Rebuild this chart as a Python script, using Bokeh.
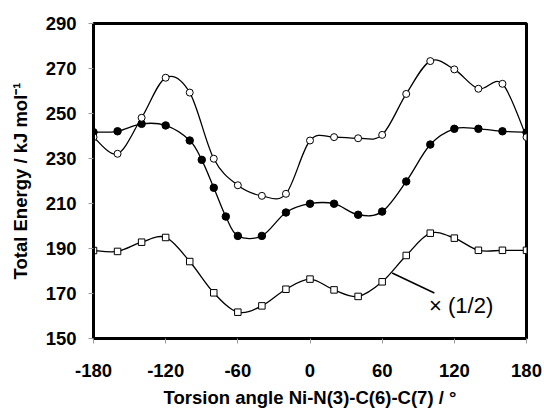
from bokeh.plotting import figure
from bokeh.models import FixedTicker, Range1d, Label
from bokeh.embed import file_html
from bokeh.resources import INLINE

# ---- data ----
angles_open = [-180, -160, -140, -120, -100, -80, -60, -40, -20, 0, 20, 40, 60, 80, 100, 120, 140, 160, 180]
energy_open = [239.5, 232.1, 248.1, 265.9, 259.3, 229.9, 218.1, 213.4, 214.3, 238.0, 239.5, 239.0, 240.5,
               258.7, 273.3, 269.6, 261.0, 263.2, 239.5]

angles_filled = [-180, -160, -140, -120, -100, -90, -80, -70, -60, -40, -20, 0, 20, 40, 60, 80, 100, 120, 140, 160, 180]
energy_filled = [241.7, 242.1, 245.4, 244.7, 238.0, 229.4, 217.0, 204.2, 195.6, 195.6, 206.0, 209.9, 209.9,
                 205.0, 206.4, 219.8, 236.2, 243.2, 243.2, 242.1, 241.6]

angles_square = [-180, -160, -140, -120, -100, -80, -60, -40, -20, 0, 20, 40, 60, 80, 100, 120, 140, 160, 180]
energy_square = [189.1, 188.7, 192.8, 194.9, 184.2, 170.3, 161.7, 164.5, 171.9, 176.4, 171.6, 168.7, 175.2,
                 186.9, 196.8, 194.6, 189.2, 189.2, 189.2]

x_ticks = [-180, -120, -60, 0, 60, 120, 180]
x_tick_labels = ["-180", "-120", "-60", "0", "60", "120", "180"]
y_ticks = [150, 170, 190, 210, 230, 250, 270, 290]

note_text = "\u00d7 (1/2)"
note_line_x = [68.3, 103.4]
note_line_y = [179.1, 170.2]
note_pos = (99.0, 164.8)

FONT = "Liberation Sans"


def smooth_segments(xs, ys):
    """Catmull-Rom style Bezier control points (as Excel's smoothed lines)."""
    n = len(xs)
    out = dict(x0=[], y0=[], x1=[], y1=[], cx0=[], cy0=[], cx1=[], cy1=[])
    for i in range(n - 1):
        i0, i3 = max(i - 1, 0), min(i + 2, n - 1)
        out["x0"].append(xs[i]); out["y0"].append(ys[i])
        out["x1"].append(xs[i + 1]); out["y1"].append(ys[i + 1])
        out["cx0"].append(xs[i] + (xs[i + 1] - xs[i0]) / 6.0)
        out["cy0"].append(ys[i] + (ys[i + 1] - ys[i0]) / 6.0)
        out["cx1"].append(xs[i + 1] - (xs[i3] - xs[i]) / 6.0)
        out["cy1"].append(ys[i + 1] - (ys[i3] - ys[i]) / 6.0)
    return out


p = figure(width=544, height=412, output_backend="svg", toolbar_location=None,
           x_range=Range1d(-180, 180), y_range=Range1d(150, 290),
           min_border_left=93, min_border_right=18, min_border_top=23, min_border_bottom=74)

p.xgrid.visible = False
p.ygrid.visible = False
p.background_fill_color = "white"
p.border_fill_color = "white"
p.outline_line_color = "black"
p.outline_line_width = 3

for ax in (p.xaxis[0], p.yaxis[0]):
    ax.axis_line_color = "black"
    ax.axis_line_width = 3
    ax.major_tick_in = 0
    ax.major_tick_out = 5
    ax.major_tick_line_color = "#999999"
    ax.major_tick_line_width = 1
    ax.minor_tick_line_color = None
    ax.major_label_text_font = FONT
    ax.major_label_text_font_style = "bold"
    ax.major_label_text_font_size = "18.5px"
    ax.major_label_text_color = "black"
    ax.axis_label_text_font = FONT
    ax.axis_label_text_font_style = "bold"
    ax.axis_label_text_font_size = "18.5px"
    ax.axis_label_text_color = "black"

p.xaxis.ticker = FixedTicker(ticks=x_ticks)
p.xaxis.major_label_overrides = {t: s for t, s in zip(x_ticks, x_tick_labels)}
p.yaxis.ticker = FixedTicker(ticks=y_ticks)
p.xaxis.major_label_standoff = 20
p.yaxis.major_label_standoff = 12
p.xaxis.axis_label_standoff = 7
p.yaxis.axis_label_standoff = 12
p.xaxis.axis_label = "Torsion angle Ni-N(3)-C(6)-C(7) / \u00b0"
p.yaxis.axis_label = "Total Energy / kJ mol\u207b\u00b9"

# smoothed lines
for xs, ys in ((angles_filled, energy_filled), (angles_open, energy_open), (angles_square, energy_square)):
    seg = smooth_segments(xs, ys)
    p.bezier(line_color="black", line_width=1.3, **seg)

# markers
p.scatter(angles_filled, energy_filled, marker="circle", size=7.5, fill_color="black", line_color="black")
p.scatter(angles_open, energy_open, marker="circle", size=7, fill_color="white", line_color="black", line_width=1)
p.scatter(angles_square, energy_square, marker="square", size=6.5, fill_color="white", line_color="black", line_width=1)

# annotation
p.line(note_line_x, note_line_y, line_color="black", line_width=1.5)
p.add_layout(Label(x=note_pos[0], y=note_pos[1], text=note_text, text_font=FONT,
                   text_font_size="22px", text_baseline="middle", text_align="left", text_color="black"))

open("out.html", "w").write(file_html(p, INLINE))
